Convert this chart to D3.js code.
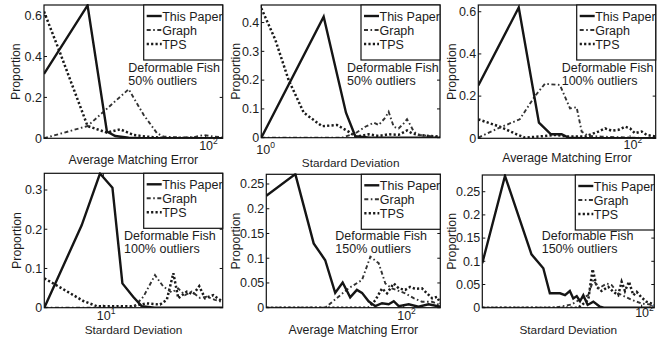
<!DOCTYPE html>
<html>
<head>
<meta charset="utf-8">
<script src="https://cdn.jsdelivr.net/npm/d3@7"></script>
<style>
  body { margin: 0; background: #fff; }
  svg { display: block; }
  text { font-family: "Liberation Sans", Arial, Helvetica, sans-serif; fill: #1c1c1c; }
</style>
</head>
<body>
<svg id="chart" width="668" height="340"></svg>
<script>
// ---- data (x in axis units, y = proportion) ----
const legendNames = ['This Paper', 'Graph', 'TPS'];

// panel 1: average matching error, 50% outliers
const err50Paper = [[10,0.315],[18.6,0.65],[24.5,0.033],[27.6,0.011],[33.4,0.003],[40,0],[127.5,0]];
const err50Graph = [[10,0],[18.6,0.06],[33.4,0.24],[41.4,0.114],[50.1,0.024],[55.1,0.008],[70,0.004],[85,0.006],[97.7,0.016],[112.7,0.008],[127.5,0.005]];
const err50Tps = [[10,0.62],[12.6,0.416],[18.6,0.06],[24.5,0.028],[29.6,0.044],[35.9,0.016],[43.4,0.008],[55,0.002],[127.5,0]];

// panel 2: standard deviation, 50% outliers
const sd50Paper = [[1,0],[2.05,0.42],[2.65,0.087],[2.95,0.005],[3.5,0],[7.82,0]];
const sd50Graph = [[1,0],[2.53,0],[2.95,0.015],[3.31,0.038],[3.65,0.052],[3.86,0.044],[4.17,0.07],[4.33,0.09],[4.59,0.038],[4.86,0.032],[5.15,0.05],[5.35,0.064],[5.56,0.044],[5.78,0.021],[6.12,0.01],[6.87,0.006],[7.82,0]];
const sd50Tps = [[1,0.45],[1.175,0.34],[1.37,0.2],[1.63,0.087],[2.01,0.04],[2.39,0.044],[2.73,0.021],[2.98,0.003],[3.44,0.012],[3.86,0.006],[4.33,0.012],[4.86,0.01],[5.35,0.025],[5.67,0.015],[6.12,0.01],[6.87,0.006],[7.82,0.004]];

// panel 3: average matching error, 100% outliers
const err100Paper = [[11.3,0.25],[20.2,0.62],[27,0.074],[32.1,0.019],[37.4,0.019],[41.2,0.003],[50,0],[144.5,0]];
const err100Graph = [[11.3,0.003],[15,0.047],[20.5,0.09],[25.5,0.2],[29.4,0.258],[36.5,0.253],[42.2,0.142],[46.4,0.147],[49.9,0.032],[54.9,0.011],[66.6,0.008],[84.6,0.005],[144.5,0]];
const err100Tps = [[11.3,0.09],[15.4,0.055],[19.6,0.019],[22.1,0.003],[29.4,0.011],[34,0.016],[41.2,0.008],[52.4,0.008],[63.4,0.032],[69.8,0.047],[76.8,0.036],[84.6,0.04],[93.1,0.055],[100,0.047],[107,0.024],[118,0.032],[127,0.016],[144.5,0.008]];

// panel 4: standard deviation, 100% outliers
const sd100Paper = [[4.04,0],[7.17,0.21],[9.5,0.342],[11.5,0.306],[13.4,0.062],[15.8,0.028],[18,0.004],[22,0],[62.5,0]];
const sd100Graph = [[4.04,0],[15.8,0],[18.5,0.028],[22.1,0.083],[25.1,0.054],[28.6,0.039],[31.6,0.049],[35,0.032],[38.8,0.041],[44.1,0.025],[48.9,0.028],[55.5,0.02],[62.5,0.014]];
const sd100Tps = [[4.04,0.075],[5.7,0.042],[7.36,0.017],[9.03,0.004],[15.8,0.004],[19.4,0.011],[23.9,0.008],[26.5,0.02],[29.3,0.088],[31.6,0.024],[36,0.041],[39.8,0.034],[43.6,0.055],[47.6,0.024],[54.1,0.032],[62.5,0.015]];

// panel 5: average matching error, 150% outliers
const err150Paper = [[15.6,0.226],[23.1,0.27],[29.6,0.13],[34.6,0.096],[39.6,0.03],[43.8,0.051],[48.5,0.021],[53.1,0.036],[56.9,0.03],[62.2,0.013],[68.1,0.003],[74.6,0.009],[81.6,0.007],[87.4,0.013],[93.5,0.003],[107,0.007],[122,0.002],[140,0.007],[164,0.002]];
const err150Graph = [[15.6,0],[34.6,0],[47.4,0.039],[56.9,0.056],[63.7,0.103],[71.3,0.09],[78,0.049],[85.3,0.039],[93.5,0.034],[102,0.029],[115,0.019],[128,0.012],[147,0.012],[164,0.005]];
const err150Tps = [[15.6,0],[62.2,0],[68.1,0.015],[74.6,0.039],[79.8,0.029],[87.4,0.049],[93.5,0.039],[102,0.036],[109,0.042],[117,0.038],[128,0.039],[137,0.029],[147,0.019],[157,0.022],[164,0.009]];

// panel 6: standard deviation, 150% outliers
const sd150Paper = [[10.1,0.096],[14,0.284],[20.5,0.115],[24.3,0.085],[26.7,0.031],[30.9,0.031],[33.2,0.027],[35.6,0.036],[37.4,0.02],[39.3,0.025],[41.2,0.014],[43.2,0.027],[46,0.006],[49.9,0.013],[54.9,0.002],[58,0],[120,0]];
const sd150Graph = [[10.1,0],[28.7,0],[36.5,0.007],[42.2,0.02],[46.4,0.027],[49.9,0.06],[54.1,0.042],[60.4,0.052],[64.9,0.049],[71.4,0.031],[78.7,0.024],[86.6,0.017],[100,0.009],[120,0.006]];
const sd150Tps = [[10.1,0],[40.2,0],[46.4,0.017],[49.4,0.083],[52.4,0.045],[56.2,0.036],[61.9,0.045],[66.6,0.034],[71.4,0.027],[75,0.056],[78.7,0.036],[83.4,0.056],[88.7,0.027],[93.1,0.034],[100,0.022],[107,0.013],[120,0.007]];

// tick values
const yTicksA = [0, 0.2, 0.4, 0.6];
const yTicksB = [0, 0.1, 0.2, 0.3, 0.4];
const yTicksC = [0, 0.1, 0.2, 0.3];
const yTicksD = [0, 0.05, 0.1, 0.15, 0.2, 0.25];

const errLabel = 'Average Matching Error';
const sdLabel = 'Stardard Deviation';

// ---- layout ----
const panels = [
  { x0: 44, x1: 222.7, y0: 5, y1: 138.3, xDom: [10, 127.5], yMax: 0.652, yTicks: yTicksA, xTick: 100, exp: '2',
    series: [err50Paper, err50Graph, err50Tps], xLabel: errLabel, xLabelY: 164, xTickY: 150, xTickDx: -6.5,
    yLabelX: 20, note: ['Deformable Fish', '50% outliers'], noteX: 128.3, noteY: 71.5 },
  { x0: 261.3, x1: 440, y0: 5, y1: 137.7, xDom: [1, 7.82], yMax: 0.461, yTicks: yTicksB, xTick: 1, exp: '0',
    series: [sd50Paper, sd50Graph, sd50Tps], xLabel: sdLabel, xLabelY: 167, xTickY: 153.5, xTickDx: -5,
    yLabelX: 240, note: ['Deformable Fish', '50% outliers'], noteX: 347, noteY: 71.5 },
  { x0: 478.3, x1: 655.7, y0: 5, y1: 138.3, xDom: [11.3, 144.5], yMax: 0.632, yTicks: yTicksA, xTick: 100, exp: '2',
    series: [err100Paper, err100Graph, err100Tps], xLabel: errLabel, xLabelY: 162, xTickY: 149, xTickDx: -6.5,
    yLabelX: 456, note: ['Deformable Fish', '100% outliers'], noteX: 561.7, noteY: 71.5 },
  { x0: 44.3, x1: 222.7, y0: 173.3, y1: 307.7, xDom: [4.04, 62.5], yMax: 0.3426, yTicks: yTicksC, xTick: 10, exp: '1',
    series: [sd100Paper, sd100Graph, sd100Tps], xLabel: sdLabel, xLabelY: 334, xTickY: 320, xTickDx: -6.5,
    yLabelX: 21, note: ['Deformable Fish', '100% outliers'], noteX: 124, noteY: 239.5 },
  { x0: 266.3, x1: 440.3, y0: 174.3, y1: 307.7, xDom: [15.6, 164], yMax: 0.2696, yTicks: yTicksD, xTick: 100, exp: '2',
    series: [err150Paper, err150Graph, err150Tps], xLabel: errLabel, xLabelY: 334, xTickY: 320, xTickDx: -6.5,
    yLabelX: 240, note: ['Deformable Fish', '150% outliers'], noteX: 335.3, noteY: 239.5 },
  { x0: 482.3, x1: 654.3, y0: 175, y1: 307.7, xDom: [10.1, 120], yMax: 0.286, yTicks: yTicksD, xTick: 100, exp: '2',
    series: [sd150Paper, sd150Graph, sd150Tps], xLabel: sdLabel, xLabelY: 334, xTickY: 317, xTickDx: -6.5,
    yLabelX: 456, note: ['Deformable Fish', '150% outliers'], noteX: 541.7, noteY: 239.5 }
];

const lineStyles = [
  { stroke: '#151515', width: 2.4, dash: null },
  { stroke: '#333', width: 1.9, dash: '4,2.5,1.6,2.5' },
  { stroke: '#1a1a1a', width: 2.5, dash: '2.2,2.2' }
];

const svg = d3.select('#chart');

panels.forEach((p, pi) => {
  const x = d3.scaleLog().domain(p.xDom).range([p.x0, p.x1]);
  const y = d3.scaleLinear().domain([0, p.yMax]).range([p.y1, p.y0]);
  const g = svg.append('g').attr('class', 'panel');

  svg.append('clipPath').attr('id', 'clip' + pi)
    .append('rect')
    .attr('x', p.x0).attr('y', p.y0 - 1)
    .attr('width', p.x1 - p.x0).attr('height', p.y1 - p.y0 + 1);

  // series
  const line = d3.line().x(d => x(d[0])).y(d => y(d[1]));
  const plot = g.append('g').attr('clip-path', `url(#clip${pi})`);
  [2, 1, 0].forEach(si => {
    const st = lineStyles[si];
    plot.append('path')
      .datum(p.series[si])
      .attr('d', line)
      .attr('fill', 'none')
      .attr('stroke', st.stroke)
      .attr('stroke-width', st.width)
      .attr('stroke-dasharray', st.dash);
  });

  // frame
  g.append('rect')
    .attr('x', p.x0).attr('y', p.y0)
    .attr('width', p.x1 - p.x0).attr('height', p.y1 - p.y0)
    .attr('fill', 'none').attr('stroke', '#111').attr('stroke-width', 1.2);

  // y ticks, inside on both sides
  const yt = g.append('g');
  p.yTicks.forEach(t => {
    const yy = y(t);
    yt.append('line').attr('x1', p.x0).attr('x2', p.x0 + 3).attr('y1', yy).attr('y2', yy).attr('stroke', '#111');
    yt.append('line').attr('x1', p.x1).attr('x2', p.x1 - 3).attr('y1', yy).attr('y2', yy).attr('stroke', '#111');
    yt.append('text')
      .attr('x', p.x0 - 2).attr('y', yy + 4.3)
      .attr('text-anchor', 'end')
      .attr('font-size', 12.5)
      .text(String(t));
  });

  // x major tick
  const xx = x(p.xTick);
  g.append('line').attr('x1', xx).attr('x2', xx).attr('y1', p.y1).attr('y2', p.y1 - 3).attr('stroke', '#111');
  g.append('line').attr('x1', xx).attr('x2', xx).attr('y1', p.y0).attr('y2', p.y0 + 3).attr('stroke', '#111');
  const tl = g.append('text')
    .attr('x', xx + p.xTickDx).attr('y', p.xTickY)
    .attr('font-size', 12.5);
  tl.append('tspan').text('10');
  tl.append('tspan').attr('dy', -6).attr('font-size', 8.5).text(p.exp);

  // axis labels
  g.append('text')
    .attr('x', (p.x0 + p.x1) / 2).attr('y', p.xLabelY)
    .attr('text-anchor', 'middle')
    .attr('font-size', p.xLabel === errLabel ? 12.3 : 11.8)
    .text(p.xLabel);
  g.append('text')
    .attr('transform', `translate(${p.yLabelX},${(p.y0 + p.y1) / 2}) rotate(-90)`)
    .attr('text-anchor', 'middle').attr('font-size', 12.3)
    .text('Proportion');

  // annotation
  p.note.forEach((s, i) => {
    g.append('text')
      .attr('x', p.noteX).attr('y', p.noteY + i * 13)
      .attr('font-size', 12.5)
      .text(s);
  });

  // legend
  const lw = 79, lh = 55;
  const lg = g.append('g').attr('transform', `translate(${p.x1 - lw},${p.y0})`);
  lg.append('rect').attr('width', lw).attr('height', lh)
    .attr('fill', '#fff').attr('stroke', '#111').attr('stroke-width', 1.2);
  legendNames.forEach((name, i) => {
    const st = lineStyles[i];
    const ly = 11 + i * 14;
    lg.append('line')
      .attr('x1', 3).attr('x2', 18).attr('y1', ly).attr('y2', ly)
      .attr('stroke', st.stroke).attr('stroke-width', st.width)
      .attr('stroke-dasharray', st.dash);
    lg.append('text')
      .attr('x', 18.5).attr('y', ly + 4.5)
      .attr('font-size', 12.5)
      .text(name);
  });
});
</script>
</body>
</html>
